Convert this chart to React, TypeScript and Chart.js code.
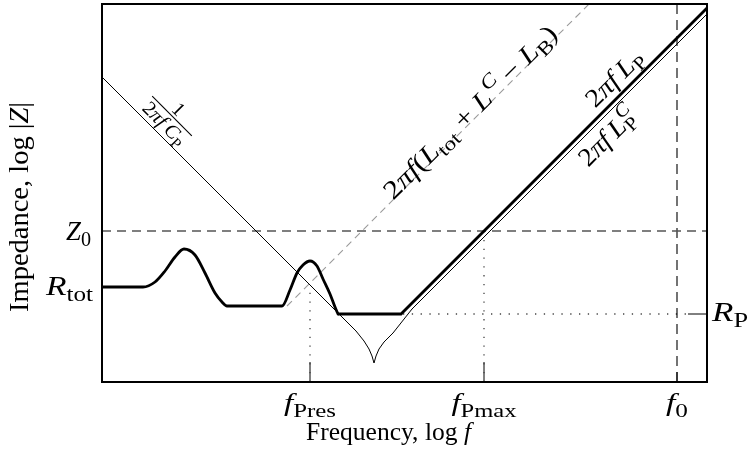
import React, { useEffect, useRef } from "react";
import { Chart, registerables } from "chart.js";

Chart.register(...registerables);

// ---- axis extents (arbitrary log units) ----
const X_MAX = 605; // log f
const Y_MAX = 378; // log |Z|

// ---- characteristic frequencies (x) and impedance levels (y) ----
const fPres = 208;
const fPmax = 382;
const f0 = 575;
const z0Level = 151;
const rTotLevel = 95;
const rPLevel = 68;

// ---- measured total impedance |Z| (thick curve) ----
const zMeasuredX = [0, 41, 53, 63, 73, 82, 93, 103, 113, 120, 125, 180, 188, 195, 201, 208, 215, 221, 228, 233, 236];
const zMeasuredY = [95, 95, 100, 111, 125, 133, 127, 109, 89, 80, 76, 76, 92, 109, 117, 121, 116, 103, 88, 75, 68];

// ---- asymptote of measured curve: R_P plateau then 2πf L_P ----
const zLpX = [236, 299, 605];
const zLpY = [68, 68, 374];

// ---- 1/(2πfC_P) + 2πf L_P^C  (thin curve with series resonance) ----
const zCpX = [0, 236, 254, 262, 267, 270, 272, 274, 277, 282, 291, 310, 605];
const zCpY = [305, 69, 51, 41, 33, 26, 19, 26, 33, 40, 49, 73, 368];

// ---- 2πf(L_tot + L^C − L_B) asymptote (gray dashed) ----
const zLtotX = [185, 489];
const zLtotY = [76, 380];

const pts = (xs: number[], ys: number[]) => xs.map((x, i) => ({ x, y: ys[i] }));

type Run = { t: string; it?: boolean; sub?: string; sup?: string; supIt?: boolean };
const FAMILY = '"Liberation Serif", "Times New Roman", serif';
const SUB = 0.75;

function setFont(ctx: CanvasRenderingContext2D, size: number, it: boolean) {
  ctx.font = `${it ? "italic " : ""}${size}px ${FAMILY}`;
}

function measureRuns(ctx: CanvasRenderingContext2D, runs: Run[], size: number) {
  let w = 0;
  for (const r of runs) {
    setFont(ctx, size, !!r.it);
    w += ctx.measureText(r.t).width;
    let sw = 0;
    if (r.sub) {
      setFont(ctx, size * SUB, false);
      sw = Math.max(sw, ctx.measureText(r.sub).width);
    }
    if (r.sup) {
      setFont(ctx, size * SUB, !!r.supIt);
      sw = Math.max(sw, ctx.measureText(r.sup).width);
    }
    w += sw;
  }
  return w;
}

function drawRuns(ctx: CanvasRenderingContext2D, runs: Run[], size: number, x: number, y: number) {
  let cx = x;
  for (const r of runs) {
    setFont(ctx, size, !!r.it);
    ctx.fillText(r.t, cx, y);
    cx += ctx.measureText(r.t).width;
    let sw = 0;
    if (r.sub) {
      setFont(ctx, size * SUB, false);
      ctx.fillText(r.sub, cx, y + size * 0.22);
      sw = Math.max(sw, ctx.measureText(r.sub).width);
    }
    if (r.sup) {
      setFont(ctx, size * SUB, !!r.supIt);
      ctx.fillText(r.sup, cx + (r.it ? size * 0.05 : 0), y - size * 0.42);
      sw = Math.max(sw, ctx.measureText(r.sup).width);
    }
    cx += sw;
  }
}

// draws rich text; if size is given, the run is stretched horizontally to the given width,
// otherwise the font size is chosen so that the natural width equals `width`.
function label(
  ctx: CanvasRenderingContext2D,
  runs: Run[],
  x: number,
  y: number,
  width: number,
  opts: { size?: number; angle?: number; align?: "left" | "center" | "right"; baseline?: boolean } = {}
) {
  const size = opts.size ?? (100 * width) / measureRuns(ctx, runs, 100);
  const W = measureRuns(ctx, runs, size);
  const hs = width / W;
  ctx.save();
  ctx.translate(x, y);
  ctx.rotate(opts.angle || 0);
  ctx.scale(hs, 1);
  ctx.textAlign = "left";
  ctx.textBaseline = "alphabetic";
  ctx.fillStyle = "#000";
  const left = opts.align === "left" ? 0 : opts.align === "right" ? -W : -W / 2;
  const base = opts.baseline ? 0 : size * 0.33;
  drawRuns(ctx, runs, size, left, base);
  ctx.restore();
  return size;
}

const annotations = {
  id: "annotations",
  afterDraw(chart: any) {
    const { ctx, chartArea } = chart;
    const xs = chart.scales.x;
    const ys = chart.scales.y;
    ctx.save();
    // frame
    ctx.strokeStyle = "#000";
    ctx.lineWidth = 2;
    ctx.setLineDash([]);
    ctx.strokeRect(chartArea.left, chartArea.top, chartArea.right - chartArea.left, chartArea.bottom - chartArea.top);

    // x tick labels
    const tb = chartArea.bottom + 29;
    label(ctx, [{ t: "f", it: true, sub: "Pres" }], xs.getPixelForValue(fPres), tb, 52, { size: 26, baseline: true });
    label(ctx, [{ t: "f", it: true, sub: "Pmax" }], xs.getPixelForValue(fPmax), tb, 65, { size: 26, baseline: true });
    label(ctx, [{ t: "f", it: true, sub: "0" }], xs.getPixelForValue(f0), tb, 22, { size: 26, baseline: true });

    // y tick labels
    label(ctx, [{ t: "Z", it: true, sub: "0" }], chartArea.left - 11, ys.getPixelForValue(z0Level) + 9, 25, { size: 27, align: "right", baseline: true });
    label(ctx, [{ t: "R", it: true, sub: "tot" }], chartArea.left - 9, ys.getPixelForValue(rTotLevel) + 8, 47, { size: 27, align: "right", baseline: true });
    label(ctx, [{ t: "R", it: true, sub: "P" }], chartArea.right + 5, ys.getPixelForValue(rPLevel) + 7, 36, { size: 28, align: "left", baseline: true });

    // axis titles
    label(ctx, [{ t: "Frequency, log " }, { t: "f", it: true }], 306, chartArea.bottom + 58, 165, { size: 25, align: "left", baseline: true });
    label(ctx, [{ t: "Impedance, log |" }, { t: "Z", it: true }, { t: "|" }], 19, 207, 210, { size: 27, angle: -Math.PI / 2 });

    // slanted curve labels
    const q = Math.PI / 4;
    label(
      ctx,
      [{ t: "2" }, { t: "π", it: true }, { t: "f", it: true }, { t: "(" }, { t: "L", it: true, sub: "tot" }, { t: " + " }, { t: "L", it: true, sup: "C", supIt: true }, { t: " − " }, { t: "L", it: true, sub: "B" }, { t: ")" }],
      xs.getPixelForValue(368), ys.getPixelForValue(270), 234, { size: 26, angle: -q }
    );
    label(ctx, [{ t: "2" }, { t: "π", it: true }, { t: "f\u2009", it: true }, { t: "L", it: true, sub: "P" }], xs.getPixelForValue(512), ys.getPixelForValue(304), 70, { size: 26, angle: -q });
    label(ctx, [{ t: "2" }, { t: "π", it: true }, { t: "f\u2009", it: true }, { t: "L", it: true, sub: "P", sup: "C", supIt: true }], xs.getPixelForValue(505), ys.getPixelForValue(245), 70, { size: 26, angle: -q });

    // fraction 1/(2πf C_P), bar parallel to the 1/(2πfC_P) line
    const fx = xs.getPixelForValue(70);
    const fy = ys.getPixelForValue(266);
    ctx.save();
    ctx.translate(fx, fy);
    ctx.rotate(q);
    ctx.strokeStyle = "#000";
    ctx.lineWidth = 1.1;
    ctx.beginPath();
    ctx.moveTo(-28, 0);
    ctx.lineTo(28, 0);
    ctx.stroke();
    ctx.restore();
    const dd = 17;
    label(
      ctx,
      [{ t: "2" }, { t: "π", it: true }, { t: "f\u2009", it: true }, { t: "C", it: true, sub: "P" }],
      fx - dd * Math.SQRT1_2, fy + dd * Math.SQRT1_2, 53, { size: 20, angle: q, baseline: true }
    );
    const nd = 3;
    label(ctx, [{ t: "1" }], fx + nd * Math.SQRT1_2, fy - nd * Math.SQRT1_2, 10, { size: 20, angle: q, baseline: true });
    ctx.restore();
  },
};

export default function App() {
  const ref = useRef<HTMLCanvasElement>(null);
  useEffect(() => {
    if (!ref.current) return;
    const common = { pointRadius: 0, pointHoverRadius: 0, fill: false, tension: 0 };
    const chart = new Chart(ref.current, {
      type: "line",
      data: {
        datasets: [
          { ...common, data: pts(zMeasuredX, zMeasuredY), borderColor: "#000", borderWidth: 2.8, cubicInterpolationMode: "monotone", borderJoinStyle: "round", borderCapStyle: "round" } as any,
          { ...common, data: pts(zLpX, zLpY), borderColor: "#000", borderWidth: 2.8, borderJoinStyle: "miter" },
          { ...common, data: pts(zCpX, zCpY), borderColor: "#000", borderWidth: 1 },
          { ...common, data: pts(zLtotX, zLtotY), borderColor: "#9a9a9a", borderWidth: 1.1, borderDash: [7, 5] },
          { ...common, data: [{ x: 0, y: z0Level }, { x: X_MAX, y: z0Level }], borderColor: "#555", borderWidth: 1.6, borderDash: [9, 6] },
          { ...common, data: [{ x: f0, y: 0 }, { x: f0, y: Y_MAX }], borderColor: "#000", borderWidth: 1.1, borderDash: [10, 6] },
          { ...common, data: [{ x: fPmax, y: 0 }, { x: fPmax, y: z0Level }], borderColor: "#444", borderWidth: 1.3, borderDash: [1.3, 7.5] },
          { ...common, data: [{ x: fPres, y: 0 }, { x: fPres, y: 94 }], borderColor: "#444", borderWidth: 1.3, borderDash: [1.3, 7.5] },
          { ...common, data: [{ x: 301, y: rPLevel }, { x: 586, y: rPLevel }], borderColor: "#444", borderWidth: 1.3, borderDash: [1.3, 7.5] },
          { ...common, data: [{ x: 586, y: rPLevel }, { x: X_MAX, y: rPLevel }], borderColor: "#000", borderWidth: 1 },
          { ...common, data: [{ x: fPres, y: 0 }, { x: fPres, y: 20 }], borderColor: "#000", borderWidth: 1 },
          { ...common, data: [{ x: fPmax, y: 0 }, { x: fPmax, y: 20 }], borderColor: "#000", borderWidth: 1 },
          { ...common, data: [{ x: f0, y: 0 }, { x: f0, y: 10 }], borderColor: "#000", borderWidth: 1 },
        ],
      },
      options: {
        responsive: false,
        animation: false,
        devicePixelRatio: 1,
        events: [],
        layout: { padding: { left: 102, right: 41, top: 4, bottom: 72 } },
        scales: {
          x: { type: "linear", min: 0, max: X_MAX, display: false },
          y: { type: "linear", min: 0, max: Y_MAX, display: false },
        },
        plugins: { legend: { display: false }, tooltip: { enabled: false }, title: { display: false } },
      },
      plugins: [annotations],
    });
    return () => chart.destroy();
  }, []);
  return (
    <div style={{ position: "absolute", left: 0, top: 0, width: 748, height: 454, background: "#fff" }}>
      <canvas ref={ref} width={748} height={454} style={{ display: "block", width: 748, height: 454 }} />
    </div>
  );
}
